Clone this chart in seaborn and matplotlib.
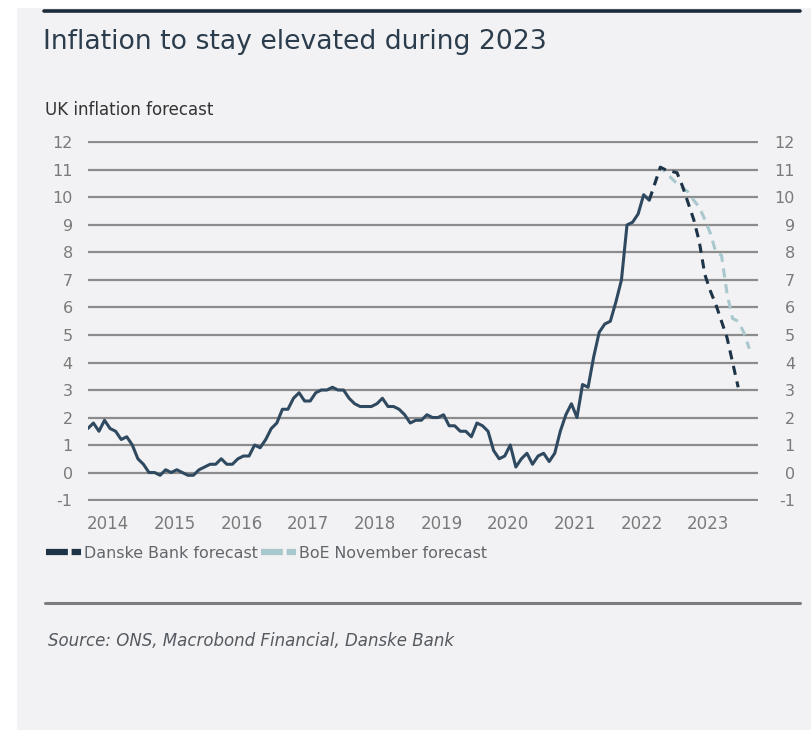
import numpy as np
import pandas as pd
import matplotlib
matplotlib.use("Agg")
import matplotlib.pyplot as plt
import matplotlib.transforms as mtransforms
from matplotlib.lines import Line2D
from matplotlib.patches import Rectangle
import seaborn as sns

# ---- data -------------------------------------------------------------
# UK CPI inflation, % y/y, monthly from March 2014 to August 2022
actual_start = "2014-03-01"
cpi_actual = [
    1.6, 1.8, 1.5, 1.9, 1.6, 1.5, 1.2, 1.3, 1.0, 0.5,                  # 2014
    0.3, 0.0, 0.0, -0.1, 0.1, 0.0, 0.1, 0.0, -0.1, -0.1, 0.1, 0.2,     # 2015
    0.3, 0.3, 0.5, 0.3, 0.3, 0.5, 0.6, 0.6, 1.0, 0.9, 1.2, 1.6,        # 2016
    1.8, 2.3, 2.3, 2.7, 2.9, 2.6, 2.6, 2.9, 3.0, 3.0, 3.1, 3.0,        # 2017
    3.0, 2.7, 2.5, 2.4, 2.4, 2.4, 2.5, 2.7, 2.4, 2.4, 2.3, 2.1,        # 2018
    1.8, 1.9, 1.9, 2.1, 2.0, 2.0, 2.1, 1.7, 1.7, 1.5, 1.5, 1.3,        # 2019
    1.8, 1.7, 1.5, 0.8, 0.5, 0.6, 1.0, 0.2, 0.5, 0.7, 0.3, 0.6,        # 2020
    0.7, 0.4, 0.7, 1.5, 2.1, 2.5, 2.0, 3.2, 3.1, 4.2, 5.1, 5.4,        # 2021
    5.5, 6.2, 7.0, 9.0, 9.1, 9.4, 10.1, 9.9,                           # 2022
]

# Forecast paths, monthly from August 2022
forecast_start = "2022-08-01"
danske_forecast = [9.9, 10.5, 11.1, 11.0, 10.95, 10.9, 10.4, 9.8, 9.2,
                   8.4, 7.2, 6.6, 6.1, 5.5, 4.9, 4.0, 3.1]
boe_forecast = [9.9, 10.5, 11.1, 10.9, 10.7, 10.5, 10.35, 10.2, 9.9, 9.65,
                9.2, 8.7, 8.0, 7.9, 6.5, 5.6, 5.5, 5.1, 4.5]

years = [2014, 2015, 2016, 2017, 2018, 2019, 2020, 2021, 2022, 2023]
y_ticks = list(range(-1, 13))

title = "Inflation to stay elevated during 2023"
subtitle = "UK inflation forecast"
source = "Source: ONS, Macrobond Financial, Danske Bank"
label_danske = "Danske Bank forecast"
label_boe = "BoE November forecast"


def to_frame(start, values):
    dates = pd.date_range(start, periods=len(values), freq="MS")
    t = dates.year + (dates.month - 1) / 12.0
    return pd.DataFrame({"t": t, "value": values})


df_act = to_frame(actual_start, cpi_actual)
df_dan = to_frame(forecast_start, danske_forecast)
df_boe = to_frame(forecast_start, boe_forecast)

# ---- style ------------------------------------------------------------
sns.set_style("white")
plt.rcParams["font.family"] = ["DejaVu Sans"]

panel_bg = "#f2f1f3"
c_actual = "#2f4a60"
c_danske = "#1d3347"
c_boe = "#a9c8ce"
c_grid = "#8c8c8c"
c_tick = "#7a7a7a"

W, H = 811, 730
fig = plt.figure(figsize=(W / 100, H / 100), dpi=100)
fig.patch.set_facecolor("white")

# light panel behind the whole chart block
fig.add_artist(Rectangle((17 / W, 0), 1 - 17 / W, 1 - 8 / H,
                         transform=fig.transFigure, facecolor=panel_bg,
                         edgecolor="none", zorder=-10))
# top rule and bottom separator
fig.add_artist(Line2D([44 / W, 800 / W], [1 - 11 / H, 1 - 11 / H],
                      transform=fig.transFigure, color="#1c2b3a", lw=2.6))
fig.add_artist(Line2D([45 / W, 800 / W], [1 - 603 / H, 1 - 603 / H],
                      transform=fig.transFigure, color="#7b7d80", lw=2.2))

fig.text(43 / W, 1 - 42 / H, title, fontsize=19.2, color="#2b3d4d",
         va="center", ha="left")
fig.text(45 / W, 1 - 110 / H, subtitle, fontsize=12, color="#333333",
         va="center", ha="left")
fig.text(48 / W, 1 - 641 / H, source, fontsize=12, color="#555a60",
         style="italic", va="center", ha="left")

# ---- axes -------------------------------------------------------------
x_left, x_right = 88, 758
y_top, y_bot = 141.1, 501.4
ax = fig.add_axes([x_left / W, 1 - y_bot / H, (x_right - x_left) / W,
                   (y_bot - y_top) / H])
ax.set_facecolor("none")

sns.lineplot(data=df_boe, x="t", y="value", ax=ax, color=c_boe, lw=2.2,
             linestyle=(0, (3.0, 2.2)), zorder=3)
sns.lineplot(data=df_dan, x="t", y="value", ax=ax, color=c_danske, lw=2.2,
             linestyle=(0, (3.0, 2.2)), zorder=4)
sns.lineplot(data=df_act, x="t", y="value", ax=ax, color=c_actual, lw=2.2,
             zorder=5)

ax.set_xlim(2014.169, 2024.214)
ax.set_ylim(-1.05, 12.05)
ax.set_xlabel("")
ax.set_ylabel("")

ax.set_yticks(y_ticks)
ax.set_yticklabels([str(v) for v in y_ticks])
ax.set_xticks([y + 0.47 for y in years])
ax.set_xticklabels([str(y) for y in years])

ax.yaxis.grid(True, color=c_grid, lw=1.6)
ax.xaxis.grid(False)
for s in ax.spines.values():
    s.set_visible(False)

ax.tick_params(axis="y", length=0, labelsize=11.5, labelcolor=c_tick,
               left=False, right=False, labelleft=True, labelright=True,
               pad=11)
ax.tick_params(axis="x", length=0, labelsize=12, labelcolor=c_tick, pad=10)

# right-hand labels are right-aligned, ending near the panel edge
right_edge = mtransforms.blended_transform_factory(ax.transAxes, ax.transData)
shift = mtransforms.ScaledTranslation(37 / 100, 0, fig.dpi_scale_trans)
for tick in ax.yaxis.get_major_ticks():
    tick.label2.set_horizontalalignment("right")
    tick.label2.set_transform(right_edge + shift)

# ---- legend -----------------------------------------------------------
handles = [
    Line2D([0], [0], color=c_danske, lw=4.5, linestyle=(0, (3.5, 0.6))),
    Line2D([0], [0], color=c_boe, lw=4.5, linestyle=(0, (3.5, 0.6))),
]
fig.legend(handles, [label_danske, label_boe], loc="center left",
           bbox_to_anchor=(46 / W, 1 - 553 / H), ncol=2, frameon=False,
           fontsize=11.4, labelcolor="#62666b", handlelength=2.2,
           handletextpad=0.2, columnspacing=0.2, borderpad=0, borderaxespad=0)

fig.savefig("out.png", dpi=100, facecolor=fig.get_facecolor())
